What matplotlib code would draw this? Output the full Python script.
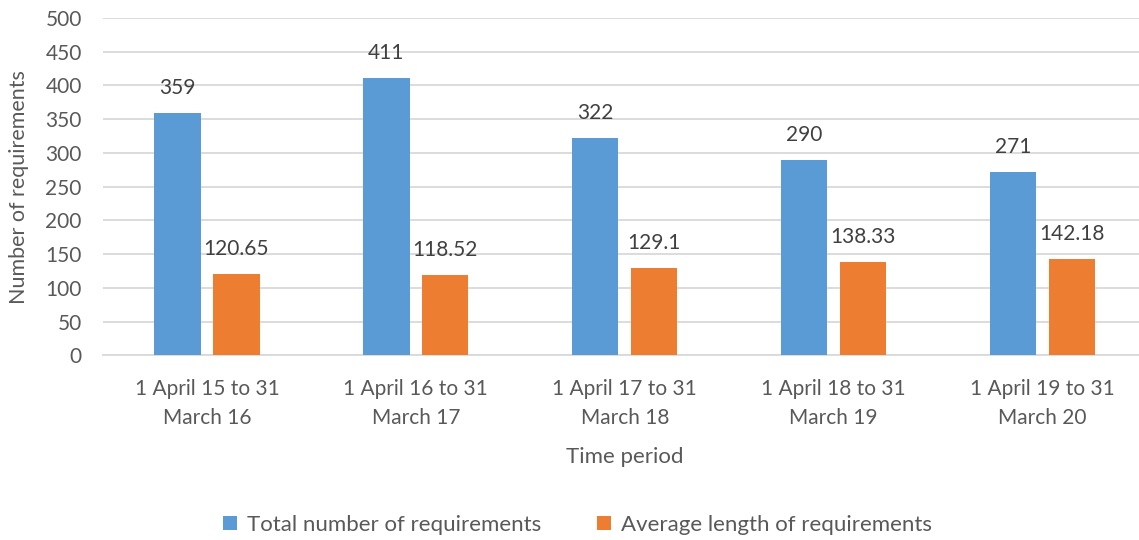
import numpy as np
import matplotlib.pyplot as plt

plt.rcParams['font.family'] = ['Lato', 'DejaVu Sans']

# data
periods = ["1 April 15 to 31\nMarch 16", "1 April 16 to 31\nMarch 17",
           "1 April 17 to 31\nMarch 18", "1 April 18 to 31\nMarch 19",
           "1 April 19 to 31\nMarch 20"]
total_reqs = [359, 411, 322, 290, 271]
avg_length = [120.65, 118.52, 129.1, 138.33, 142.18]
total_labels = ["359", "411", "322", "290", "271"]
avg_labels = ["120.65", "118.52", "129.1", "138.33", "142.18"]

blue = "#5b9bd5"
orange = "#ed7d31"
grey_txt = "#595959"

fig = plt.figure(figsize=(11.39, 5.4), dpi=100)
ax = fig.add_axes([0.090, 0.342, 0.917, 0.625])

x = np.arange(len(periods))
w = 0.222
off = 0.141
b1 = ax.bar(x - off, total_reqs, w, color=blue, label="Total number of requirements", zorder=3)
b2 = ax.bar(x + off, avg_length, w, color=orange, label="Average length of requirements", zorder=3)

for bars, labs in [(b1, total_labels), (b2, avg_labels)]:
    for r, t in zip(bars, labs):
        ax.annotate(t, (r.get_x() + r.get_width() / 2, r.get_height()),
                    xytext=(0, 18), textcoords="offset points",
                    ha="center", va="center", fontsize=15, color="#404040")

ax.set_xlim(-0.5, len(periods) - 0.5)
ax.set_ylim(0, 500)
ax.set_yticks(range(0, 501, 50))
ax.set_xticks(x)
ax.set_xticklabels(periods, linespacing=1.55)
ax.yaxis.grid(True, color="#d9d9d9", linewidth=1.3, zorder=0)
ax.tick_params(axis="both", length=0, labelsize=15, labelcolor=grey_txt)
ax.tick_params(axis="y", pad=15)
ax.tick_params(axis="x", pad=17)
for s in ["top", "right", "left"]:
    ax.spines[s].set_visible(False)
ax.spines["bottom"].set_color("#d9d9d9")
ax.spines["bottom"].set_linewidth(1.3)

ax.set_xlabel("Time period", fontsize=16, color=grey_txt, labelpad=14)
ax.set_ylabel("Number of requirements", fontsize=15.5, color=grey_txt)
ax.yaxis.set_label_coords(-0.07, 0.5)

fig.legend(loc="center", bbox_to_anchor=(0.507, 0.028), ncol=2, frameon=False,
           fontsize=16, labelcolor=grey_txt, handlelength=0.65, handleheight=0.65,
           columnspacing=2.5, handletextpad=0.45)

fig.savefig("out.png", dpi=100)
